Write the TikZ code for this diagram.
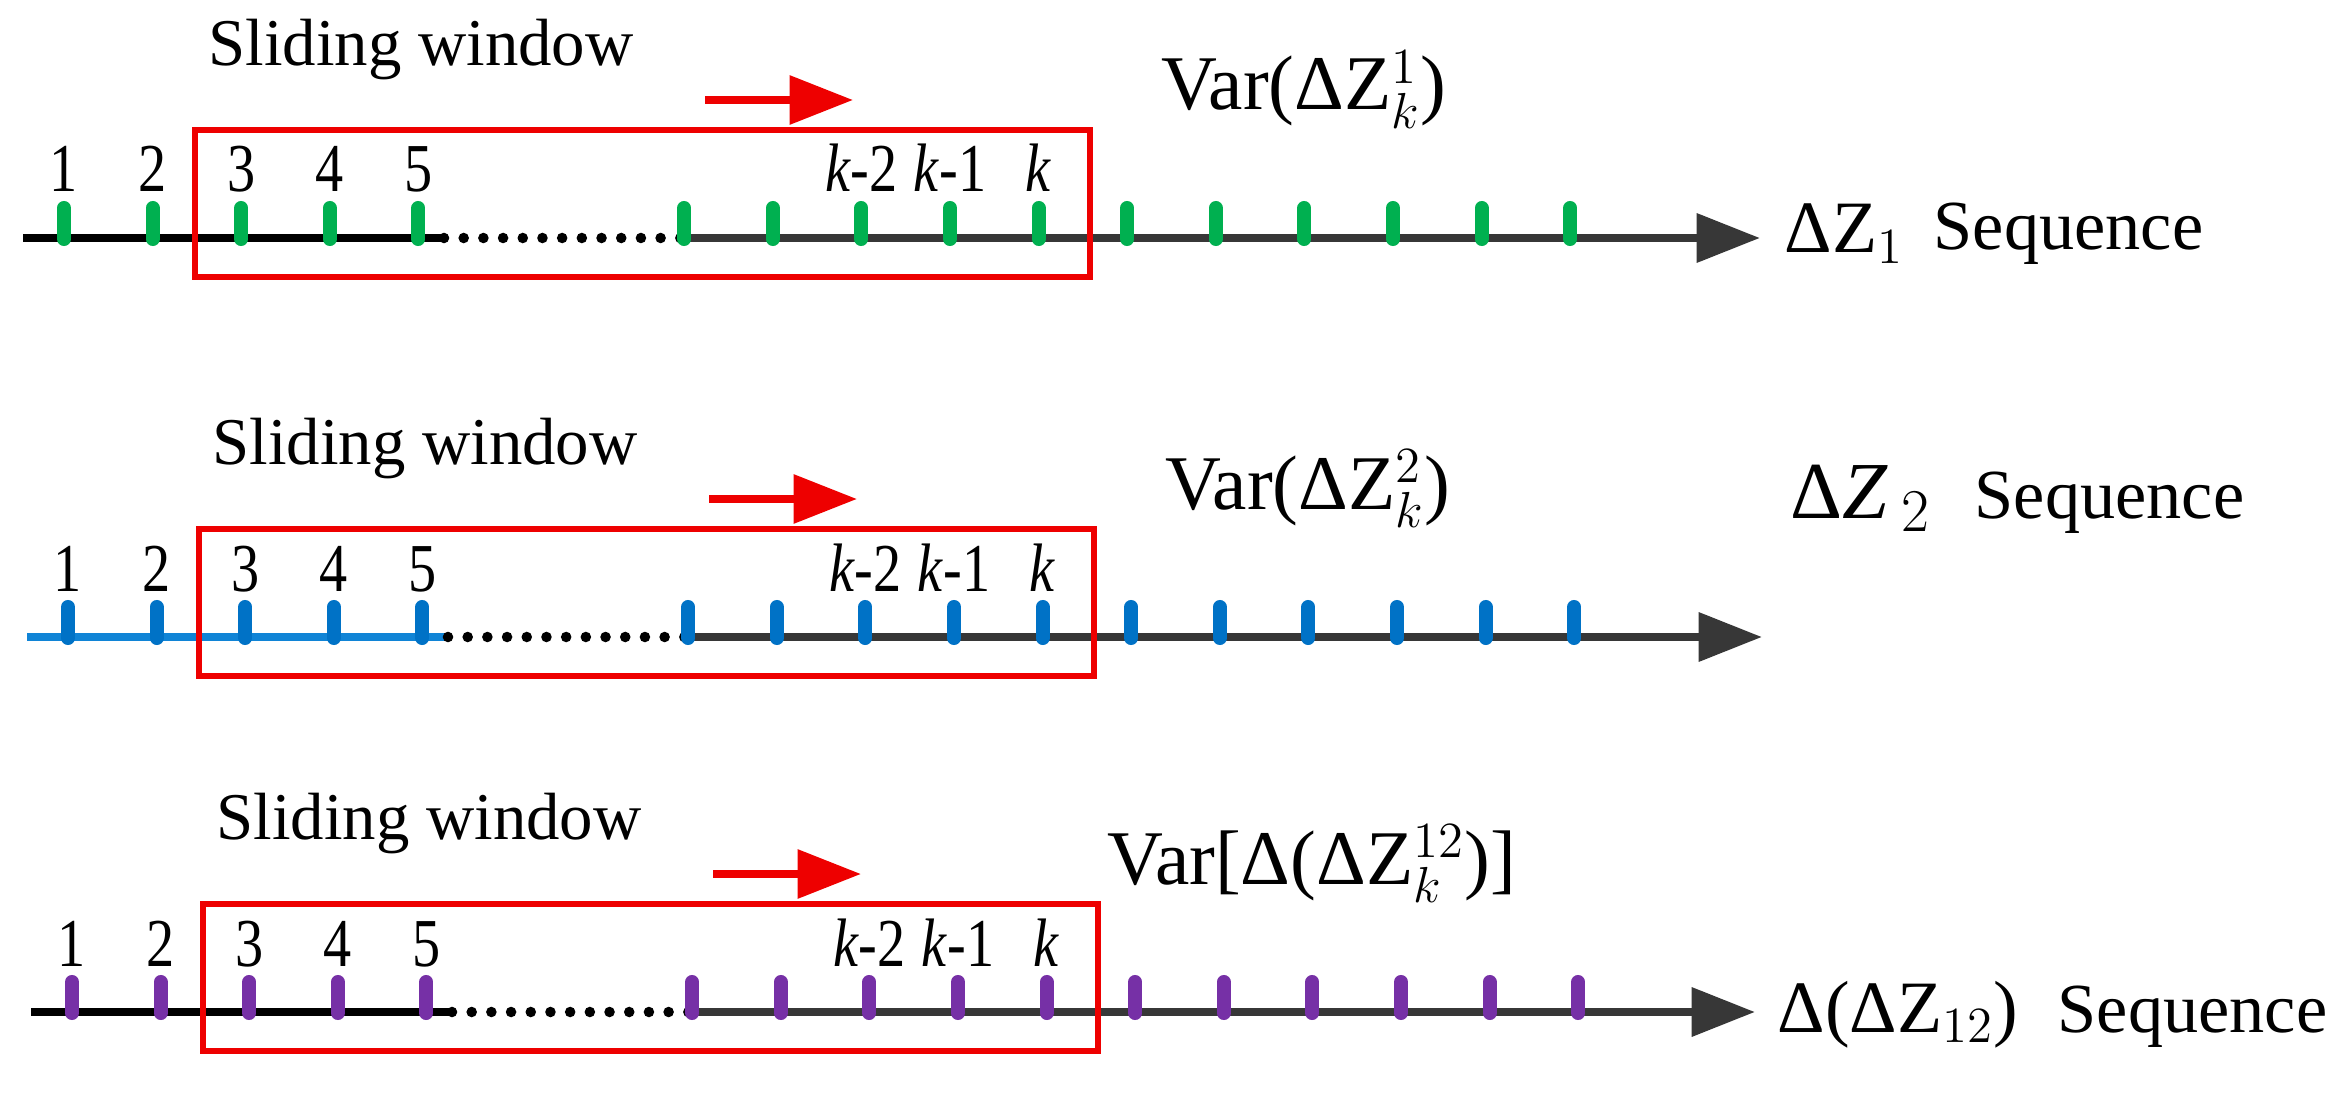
\documentclass[tikz,border=0pt]{standalone}
\usepackage{fontspec}
\setmainfont{Liberation Serif}
\newfontfamily\narrowserif[FakeStretch=0.82]{Liberation Serif}
\usetikzlibrary{arrows.meta}
\definecolor{tickgreen}{RGB}{0,176,80}
\definecolor{tickblue}{RGB}{0,114,198}
\definecolor{lineblue}{RGB}{16,132,214}
\definecolor{tickpurple}{RGB}{118,48,166}
\definecolor{axisgray}{RGB}{55,55,55}
\definecolor{winred}{RGB}{238,0,0}
\tikzset{
  axisline/.style={line width=2.4pt},
  dotline/.style={line width=3pt, line cap=round, dash pattern=on 0pt off 5.6pt},
  axisarrow/.style={draw=axisgray, line width=2.4pt, -{Triangle[length=18pt,width=13.5pt]}},
  tickmark/.style={line width=4pt, line cap=round},
  winbox/.style={draw=winred, line width=1.6pt},
  slidearrow/.style={draw=winred, line width=2.2pt, -{Triangle[length=18pt,width=13.5pt]}},
  swtext/.style={inner sep=0pt, font=\fontsize{19}{21}\selectfont},
  numtext/.style={inner sep=0pt, anchor=base, font=\narrowserif\fontsize{19.5}{22}\selectfont},
  vartext/.style={inner sep=0pt, anchor=base, font=\fontsize{22}{24}\selectfont},
  seqtext/.style={inner sep=0pt, anchor=base west, font=\fontsize{20}{22}\selectfont},
  dztext/.style={inner sep=0pt, anchor=base west, font=\fontsize{21}{23}\selectfont},
}
% #1 id, #2 axis y, #3 x shift, #4 tick colour, #5 left line colour, #6 tip x, #7 var label
\newcommand{\seqrow}[7]{%
  \begin{scope}[shift={(#3,#2)}]
    \coordinate (a#1s) at (23,0);
    \coordinate (a#1e) at (444,0);
    \coordinate (a#1d) at (686,0);
    \coordinate (a#1t) at (#6,0);
    \draw[axisline, draw=#5] (a#1s) -- (a#1e);
    \draw[dotline] (a#1e) -- (a#1d);
    \draw[axisarrow] (a#1d) -- (a#1t);
    \foreach \i in {0,1,2,3,4,7,8,9,10,11,12,13,14,15,16,17} {
      \draw[tickmark, draw=#4] ({64+88.6*\i},-30) -- ({64+88.6*\i},1);
    }
    \foreach \i/\t in {0/1,1/2,2/3,3/4,4/5,9/{\textit{k}-2},10/{\textit{k}-1},11/{\textit{k}}} {
      \node[numtext] (n#1-\i) at ({64+88.6*\i},-46) {\t};
    }
    \coordinate (b#1nw) at (195,-108);
    \coordinate (b#1se) at (1090,39);
    \draw[winbox] (b#1nw) rectangle (b#1se);
    \node[swtext] (sw#1) at (421,-188) {Sliding window};
    \coordinate (r#1s) at (705,-138);
    \coordinate (r#1t) at (853,-138);
    \draw[slidearrow] (r#1s) -- (r#1t);
    \node[vartext] (var#1) at (1304,-128) {#7};
  \end{scope}%
}
\begin{document}
\begin{tikzpicture}[x=0.01cm, y=-0.01cm]
  \useasboundingbox (0,0) rectangle (2351,1097);
  \seqrow{1}{238}{0}{tickgreen}{black}{1760}{Var(ΔZ$^{1}_{k}$)}
  \seqrow{2}{637}{4}{tickblue}{lineblue}{1758}{Var(ΔZ$^{2}_{k}$)}
  \seqrow{3}{1012}{8}{tickpurple}{black}{1747}{Var[Δ(ΔZ$^{12}_{k}$)]}
  % sequence labels
  \node[dztext] (dz1) at (1784,253) {ΔZ$_{1}$};
  \node[seqtext] (sq1) at (1933,250) {Sequence};
  \node[dztext, font=\fontsize{23}{25}\selectfont] (dz2) at (1790,518) {Δ\textit{Z}\,$_{2}$};
  \node[seqtext] (sq2) at (1974,518) {Sequence};
  \node[dztext] (dz3) at (1777,1032) {Δ(ΔZ$_{12}$)};
  \node[seqtext] (sq3) at (2057,1032) {Sequence};
\end{tikzpicture}
\end{document}
